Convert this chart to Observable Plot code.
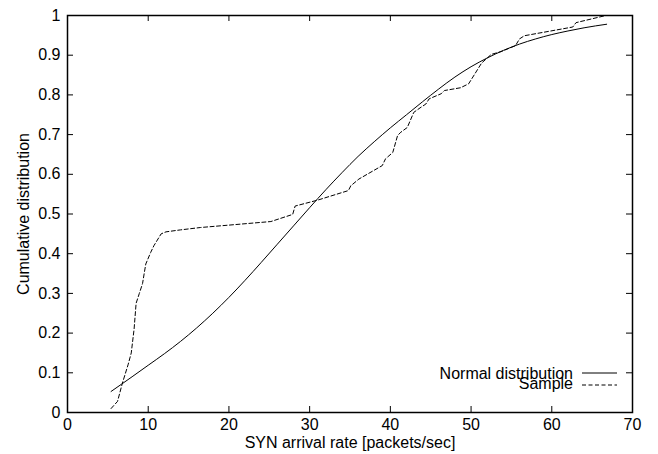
<!DOCTYPE html>
<html>
<head>
<meta charset="utf-8">
<script src="https://cdn.jsdelivr.net/npm/d3@7"></script>
<script src="https://cdn.jsdelivr.net/npm/@observablehq/plot@0.6"></script>
<style>
  html, body { margin: 0; padding: 0; background: #fff; }
  #chart { width: 658px; height: 454px; }
</style>
</head>
<body>
<div id="chart"></div>
<script>
// Normal distribution curve
const normalX = [5.4, 8, 10, 12, 14, 16, 18, 20, 22, 24, 26, 28, 30, 32, 34, 36, 38, 40, 42, 44, 46, 48, 50, 52, 54, 56, 58, 60, 62, 64, 66.8];
const normalY = [0.053, 0.09, 0.119, 0.148, 0.179, 0.213, 0.25, 0.29, 0.333, 0.378, 0.424, 0.47, 0.516, 0.561, 0.604, 0.645, 0.682, 0.717, 0.75, 0.783, 0.815, 0.845, 0.871, 0.893, 0.912, 0.928, 0.941, 0.952, 0.961, 0.969, 0.978];

const sampleX = [5.4, 6.2, 6.8, 7.5, 7.9, 8.25, 8.5, 8.9, 9.3, 9.5, 9.7, 10.3, 10.7, 11.6, 12.2, 14, 16.5, 20, 25.2, 27.9, 28.2, 31, 34.8, 35.1, 36.1, 39, 39.4, 40.3, 40.9, 41.3, 42.1, 42.9, 43.8, 44.4, 44.8, 46.3, 46.7, 48.7, 49.7, 51.3, 52.5, 53.7, 55.5, 56, 56.6, 62.6, 63, 66.7];
const sampleY = [0.01, 0.028, 0.074, 0.12, 0.15, 0.21, 0.275, 0.3, 0.325, 0.35, 0.374, 0.403, 0.42, 0.45, 0.455, 0.46, 0.466, 0.472, 0.481, 0.499, 0.52, 0.535, 0.559, 0.571, 0.588, 0.622, 0.639, 0.655, 0.698, 0.706, 0.718, 0.756, 0.769, 0.777, 0.79, 0.803, 0.811, 0.818, 0.828, 0.88, 0.902, 0.909, 0.924, 0.941, 0.949, 0.971, 0.982, 1.0];

const xTicks = [0, 10, 20, 30, 40, 50, 60, 70];
const xTickLabels = ["0", "10", "20", "30", "40", "50", "60", "70"];
const yTicks = [0, 0.1, 0.2, 0.3, 0.4, 0.5, 0.6, 0.7, 0.8, 0.9, 1];
const yTickLabels = ["0", "0.1", "0.2", "0.3", "0.4", "0.5", "0.6", "0.7", "0.8", "0.9", "1"];

const xLabel = "SYN arrival rate [packets/sec]";
const yLabel = "Cumulative distribution";
const seriesNames = ["Normal distribution", "Sample"];

const normal = normalX.map((x, i) => ({x, y: normalY[i]}));
const sample = sampleX.map((x, i) => ({x, y: sampleY[i]}));

const W = 658, H = 454;
const mT = 15, mB = 42, mL = 67, mR = 26;
const plotH = H - mT - mB;
const plotW = W - mL - mR;
const tick = 6;

const chart = Plot.plot({
  width: W,
  height: H,
  marginTop: mT,
  marginBottom: mB,
  marginLeft: mL,
  marginRight: mR,
  style: {fontFamily: "'Liberation Sans', Arial, Helvetica, sans-serif", fontSize: "16px", color: "#000", background: "#fff"},
  x: {domain: [0, 70]},
  y: {domain: [0, 1]},
  marks: [
    Plot.axisX(xTicks, {tickSize: 0, tickPadding: 6, tickFormat: (d, i) => xTickLabels[i], label: null}),
    Plot.axisY(yTicks, {tickSize: 0, tickPadding: 7, tickFormat: (d, i) => yTickLabels[i], label: null}),
    // inward ticks on all four sides
    Plot.tickX(xTicks, {x: d => d, insetTop: plotH - tick, stroke: "#000", strokeWidth: 1}),
    Plot.tickX(xTicks, {x: d => d, insetBottom: plotH - tick, stroke: "#000", strokeWidth: 1}),
    Plot.tickY(yTicks, {y: d => d, insetRight: plotW - tick, stroke: "#000", strokeWidth: 1}),
    Plot.tickY(yTicks, {y: d => d, insetLeft: plotW - tick, stroke: "#000", strokeWidth: 1}),
    Plot.line(normal, {x: "x", y: "y", stroke: "#000", strokeWidth: 1, curve: "monotone-x"}),
    Plot.line(sample, {x: "x", y: "y", stroke: "#000", strokeWidth: 1, strokeDasharray: "4,2.5"}),
    Plot.frame({stroke: "#000", strokeWidth: 1.5}),
    Plot.text([xLabel], {frameAnchor: "bottom", lineAnchor: "middle", textAnchor: "middle", dy: 30, fill: "#000"}),
    Plot.text([yLabel], {frameAnchor: "left", lineAnchor: "middle", textAnchor: "middle", rotate: -90, dx: -44, fill: "#000"})
  ]
});

// legend (gnuplot style, inside bottom-right)
const svg = d3.select(chart);
const right = W - mR;
const leg = svg.append("g").attr("font-family", "'Liberation Sans', Arial, Helvetica, sans-serif").attr("font-size", 16);
const legRows = [
  {name: seriesNames[0], ty: 373, ly: 373, dash: null},
  {name: seriesNames[1], ty: 383, ly: 385, dash: "4,2.5"}
];
legRows.forEach(r => {
  leg.append("text").attr("x", right - 59).attr("y", r.ty).attr("dy", "0.35em")
    .attr("text-anchor", "end").attr("fill", "#000").text(r.name);
  leg.append("line").attr("x1", right - 50).attr("x2", right - 15)
    .attr("y1", r.ly).attr("y2", r.ly).attr("stroke", "#000").attr("stroke-width", 1)
    .attr("stroke-dasharray", r.dash);
});

document.getElementById("chart").appendChild(chart);
</script>
</body>
</html>
